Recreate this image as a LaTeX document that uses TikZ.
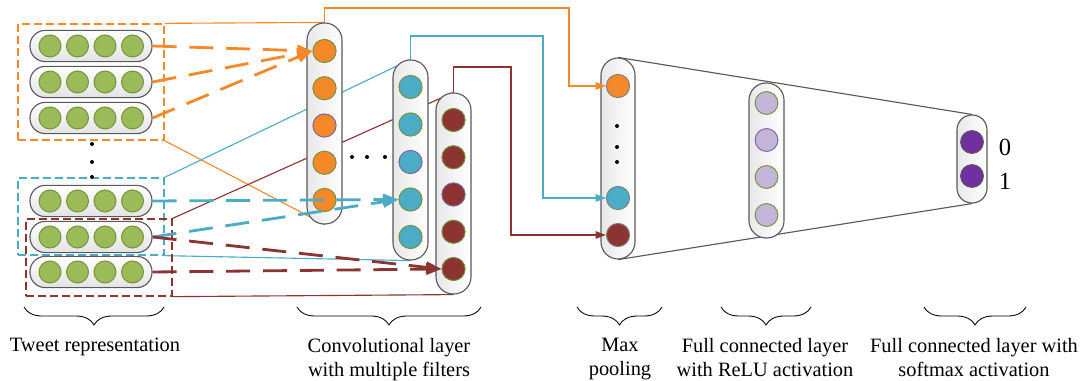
\documentclass[tikz,border=0pt]{standalone}
\usepackage{fontspec}
\setmainfont{Liberation Serif}
\usepackage{xcolor}
\usepackage{tikz}
\usetikzlibrary{shapes,arrows.meta,positioning,calc,backgrounds,decorations.pathreplacing}

\definecolor{clrorange}{HTML}{F5892A}
\definecolor{clrcyan}{HTML}{4BACC6}
\definecolor{clrred}{HTML}{8B3431}
\definecolor{clrgreen}{HTML}{9BBB59}
\definecolor{clrolive}{HTML}{76923C}
\definecolor{clrpurple}{HTML}{8064A2}
\definecolor{clrlilac}{HTML}{C4B6D8}
\definecolor{clrviolet}{HTML}{7030A0}
\definecolor{clrpill}{HTML}{595959}

\begin{document}
\begin{tikzpicture}[x=0.025cm, y=-0.025cm, >={Triangle[length=0.26cm,width=0.19cm]}]
\tikzset{
tweet/.style    = {draw=clrpill, line width=0.8pt, top color=white, bottom color=gray!22, minimum width=3.05cm, minimum height=0.78cm, rounded corners=0.38cm, inner sep=0pt},
layer/.style    = {draw=clrpill, line width=0.8pt, left color=gray!18, right color=white, minimum width=0.875cm, rounded corners=0.43cm, inner sep=0pt},
unit/.style     = {circle, draw=clrolive, line width=0.7pt, minimum size=0.58cm, inner sep=0pt},
region/.style   = {draw, dash pattern=on 0.2cm off 0.1cm, line width=0.9pt, minimum width=3.65cm, inner sep=0pt},
field/.style    = {line width=0.8pt},
darrow/.style   = {line width=2pt, dash pattern=on 0.6cm off 0.32cm, -{Triangle[length=0.38cm,width=0.28cm]}},
elbow/.style    = {line width=0.8pt, ->},
brc/.style      = {decorate, decoration={brace, mirror, amplitude=0.45cm}, line width=0.6pt},
lbl/.style      = {font=\fontsize{14.5}{17}\selectfont, align=center, anchor=north, inner sep=0pt},
}
    \useasboundingbox (0,0) rectangle (1080,381);

    % Dashed regions over the tweet rows
    \node [region, draw=clrorange, minimum height=2.9cm]   (bxo) at (91,82)    {};
    \node [region, draw=clrcyan, minimum height=1.925cm]   (bxc) at (91,216.5) {};
    \node [region, draw=clrred, minimum height=1.925cm]    (bxr) at (99,257.5) {};

    % Layer nodes
    \node [layer, minimum height=5.025cm]               (cv1) at (324.5,123.5) {};
    \node [layer, minimum height=5cm]                   (cv2) at (410.5,160)   {};
    \node [layer, minimum height=5.025cm]               (cv3) at (453.5,193.5) {};
    \node [layer, minimum height=5.025cm, minimum width=0.85cm] (mp) at (618,158.5) {};
    \node [layer, minimum height=3.875cm]               (fc)  at (766.5,160.5) {};
    \node [layer, minimum height=2.2cm, minimum width=0.75cm, rounded corners=0.37cm] (sm) at (972,159) {};

    % Receptive fields and dense links (behind the layers)
    \begin{scope}[on background layer]
    \draw [field, clrorange]    (bxo.north east) -- (cv1.north);
    \draw [field, clrorange]    (bxo.south east) -- (cv1.south);
    \draw [field, clrcyan]      (bxc.north east) -- (cv2.north);
    \draw [field, clrcyan]      (bxc.south east) -- (cv2.south);
    \draw [field, clrred]       (bxr.north east) -- (cv3.north);
    \draw [field, clrred]       (bxr.south east) -- (cv3.south);
    \draw [field, clrpill]      (mp.north)       -- (sm.north);
    \draw [field, clrpill]      (mp.south)       -- (sm.south);
    \end{scope}

    % Tweet rows
    \foreach \n/\y in {1/46,2/82,3/118,4/201,5/237,6/272} {
        \node [tweet] (tw\n) at (91,\y) {};
        \foreach \x in {50,77.5,105,132.5}
            \node [unit, fill=clrgreen, minimum size=0.55cm] at (\x,\y) {};
    }
    \foreach \y in {144,162,177}
        \fill (92,\y) circle (0.05cm);

    % Filters
    \foreach \i/\b in {1/clrolive,2/clrolive,3/clrpurple,4/clrolive,5/clrolive} {
        \node [unit, fill=clrorange, draw=\b]   (c1\i) at (324.5,{51+37.25*(\i-1)}) {};
        \node [unit, fill=clrcyan, draw=\b]     (c2\i) at (410.5,{87+37.5*(\i-1)})  {};
        \node [unit, fill=clrred, draw=\b]      (c3\i) at (453.5,{120+37.25*(\i-1)}) {};
    }
    \foreach \x in {352,367,385}
        \fill (\x,157) circle (0.05cm);

    % Max pooling
    \node [unit, fill=clrorange, draw=gray]     (m1) at (618,86)  {};
    \node [unit, fill=clrcyan, draw=gray]       (m2) at (618,198) {};
    \node [unit, fill=clrred, draw=gray]        (m3) at (618,235) {};
    \foreach \y in {126,147,162}
        \fill (617,\y) circle (0.05cm);

    % Fully connected layers
    \foreach \i/\y/\b in {1/103/clrolive,2/140/clrpurple,3/177/clrolive,4/215/clrolive}
        \node [unit, fill=clrlilac, draw=\b, minimum size=0.57cm] (f\i) at (766.5,\y) {};
    \node [unit, fill=clrviolet, draw=clrpill, minimum size=0.57cm] (s1) at (972,142) {};
    \node [unit, fill=clrviolet, draw=clrpill, minimum size=0.57cm] (s2) at (972,176) {};
    \node [font=\fontsize{17.5}{20}\selectfont] (out0) at (1005,147) {0};
    \node [font=\fontsize{17.5}{20}\selectfont] (out1) at (1005,181) {1};

    % Filter inputs
    \draw [darrow, clrorange]   (tw1.east) -- (c11.west);
    \draw [darrow, clrorange]   (tw2.east) -- (c11.west);
    \draw [darrow, clrorange]   (tw3.east) -- (c11.west);
    \draw [darrow, clrcyan]     (tw4.east) -- (c24.west);
    \draw [darrow, clrcyan]     (tw5.east) -- (c24.west);
    \draw [darrow, clrred]      (tw5.east) -- (c35.west);
    \draw [darrow, clrred]      (tw6.east) -- (c35.west);

    % Pooling edges
    \draw [elbow, clrorange]    (cv1.north) |- (569,8)  |- (m1.west);
    \draw [elbow, clrcyan]      (cv2.north) |- (543,36) |- (m2.west);
    \draw [elbow, clrred]       (cv3.north) |- (511,67) |- (m3.west);

    % Braces and captions
    \draw [brc] (24,307)  -- (164,307);
    \draw [brc] (297,307) -- (481,307);
    \draw [brc] (577,307) -- (662,307);
    \draw [brc] (721,307) -- (811,307);
    \draw [brc] (924,307) -- (1026,307);
    \node [lbl] (lbltw) at (95,338)  {Tweet representation};
    \node [lbl] (lblcv) at (389,338) {Convolutional layer\\with multiple filters};
    \node [lbl] (lblmp) at (620,338) {Max\\pooling};
    \node [lbl] (lblfc) at (765,338) {Full connected layer\\with ReLU activation};
    \node [lbl] (lblsm) at (974,338) {Full connected layer with\\softmax activation};

\end{tikzpicture}
\end{document}
